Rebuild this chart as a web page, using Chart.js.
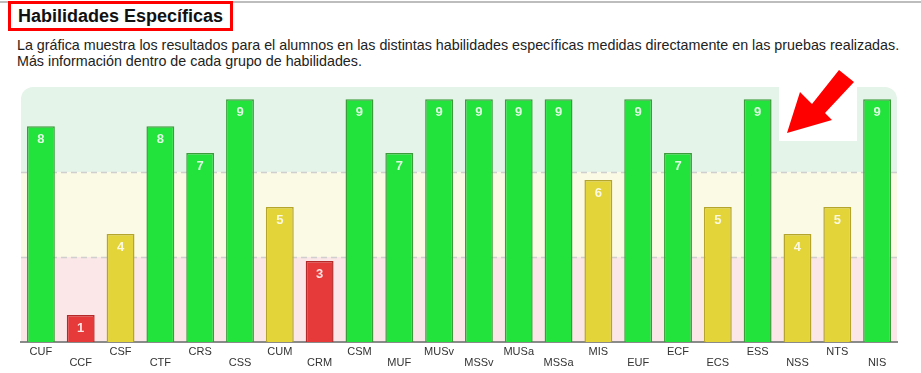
<!DOCTYPE html>
<html>
<head>
<meta charset="utf-8">
<script src="https://cdn.jsdelivr.net/npm/chart.js@4.4.0/dist/chart.umd.min.js"></script>
<style>
  body { margin: 0; background: #fff; font-family: "Liberation Sans", Arial, sans-serif; width: 921px; height: 373px; overflow: hidden; position: relative; }
  .rule { position: absolute; left: 0; top: 1px; width: 921px; height: 2px; background: #bdbdbd; }
  .title { position: absolute; left: 8px; top: 1px; height: 24px; padding: 0 7px; border: 3px solid #f00; background: #fff;
           font-weight: bold; font-size: 18px; line-height: 25px; color: #111; }
  .desc { position: absolute; left: 17px; top: 37px; font-size: 14.3px; line-height: 16px; color: #222; }
  .chartBox { position: absolute; left: 0; top: 80px; width: 921px; height: 293px; }
  .arrow { position: absolute; left: 779px; top: 60px; }
</style>
</head>
<body>
<div class="rule"></div>
<div class="title">Habilidades Específicas</div>
<div class="desc">La gráfica muestra los resultados para el alumnos en las distintas habilidades específicas medidas directamente en las pruebas realizadas.<br>Más información dentro de cada grupo de habilidades.</div>
<div class="chartBox"><canvas id="chart"></canvas></div>
<svg class="arrow" width="80" height="82" viewBox="0 0 80 82">
  <rect x="0" y="27" width="78" height="54" fill="#fff"/>
  <polygon points="8,73 21,32 33,44 60,10 75,22 46,53 53,60" fill="#f00"/>
</svg>
<script>
const skills = ['CUF', 'CCF', 'CSF', 'CTF', 'CRS', 'CSS', 'CUM', 'CRM', 'CSM', 'MUF', 'MUSv',
  'MSSv', 'MUSa', 'MSSa', 'MIS', 'EUF', 'ECF', 'ECS', 'ESS', 'NSS', 'NTS', 'NIS'];
const scores = [8, 1, 4, 8, 7, 9, 5, 3, 9, 7, 9, 9, 9, 9, 6, 9, 7, 5, 9, 4, 5, 9];

function fillFor(v) {
  if (v >= 7) return '#22e33c';
  if (v >= 4) return '#e3d43a';
  return '#e63a3a';
}
function borderFor(v) {
  if (v >= 7) return '#3c9c3c';
  if (v >= 4) return '#b5a52c';
  return '#b42a2a';
}

const bandsPlugin = {
  id: 'bands',
  beforeDraw(chart) {
    const { ctx, chartArea: a } = chart;
    const h = (a.bottom - a.top) / 3;
    ctx.save();
    ctx.fillStyle = '#e4f4e9';
    ctx.beginPath();
    ctx.roundRect(a.left, a.top, a.right - a.left, h + 1, [12, 12, 0, 0]);
    ctx.fill();
    ctx.fillStyle = '#fbfae4';
    ctx.fillRect(a.left, a.top + h, a.right - a.left, h);
    ctx.fillStyle = '#fbe7e7';
    ctx.fillRect(a.left, a.top + 2 * h, a.right - a.left, h);
    ctx.strokeStyle = '#cfcfcf';
    ctx.lineWidth = 1.5;
    ctx.setLineDash([6, 4]);
    [1, 2].forEach(i => {
      const y = Math.round(a.top + i * h) + 0.5;
      ctx.beginPath();
      ctx.moveTo(a.left, y);
      ctx.lineTo(a.right, y);
      ctx.stroke();
    });
    ctx.restore();
  }
};

const valueLabels = {
  id: 'valueLabels',
  afterDatasetsDraw(chart) {
    const { ctx } = chart;
    const meta = chart.getDatasetMeta(0);
    ctx.save();
    ctx.font = 'bold 13px "Liberation Sans", Arial, sans-serif';
    ctx.fillStyle = 'rgba(255,255,255,0.85)';
    ctx.textAlign = 'center';
    ctx.textBaseline = 'middle';
    meta.data.forEach((bar, i) => {
      ctx.fillText(String(scores[i]), bar.x, bar.y + 13);
    });
    ctx.restore();
  }
};

new Chart(document.getElementById('chart'), {
  type: 'bar',
  data: {
    labels: skills,
    datasets: [{
      data: scores,
      backgroundColor: scores.map(fillFor),
      borderColor: scores.map(borderFor),
      borderWidth: 1.5,
      barPercentage: 0.7,
      categoryPercentage: 1
    }]
  },
  options: {
    responsive: true,
    maintainAspectRatio: false,
    animation: false,
    layout: { padding: { left: 21, right: 24, top: 7, bottom: 0 } },
    plugins: { legend: { display: false }, tooltip: { enabled: false } },
    scales: {
      x: {
        grid: { display: false, drawTicks: false },
        border: { display: true, color: '#8a8a8a', width: 2 },
        ticks: {
          autoSkip: false,
          maxRotation: 0,
          padding: 4,
          color: '#333',
          font: { family: '"Liberation Sans", Arial, sans-serif', size: 11, lineHeight: 1.0 },
          callback: (val, i) => (i % 2 ? ['', skills[i]] : skills[i])
        },
        afterFit: s => { s.height = 31; }
      },
      y: {
        display: false,
        min: 0,
        max: 9.45
      }
    }
  },
  plugins: [bandsPlugin, valueLabels]
});
</script>
</body>
</html>
